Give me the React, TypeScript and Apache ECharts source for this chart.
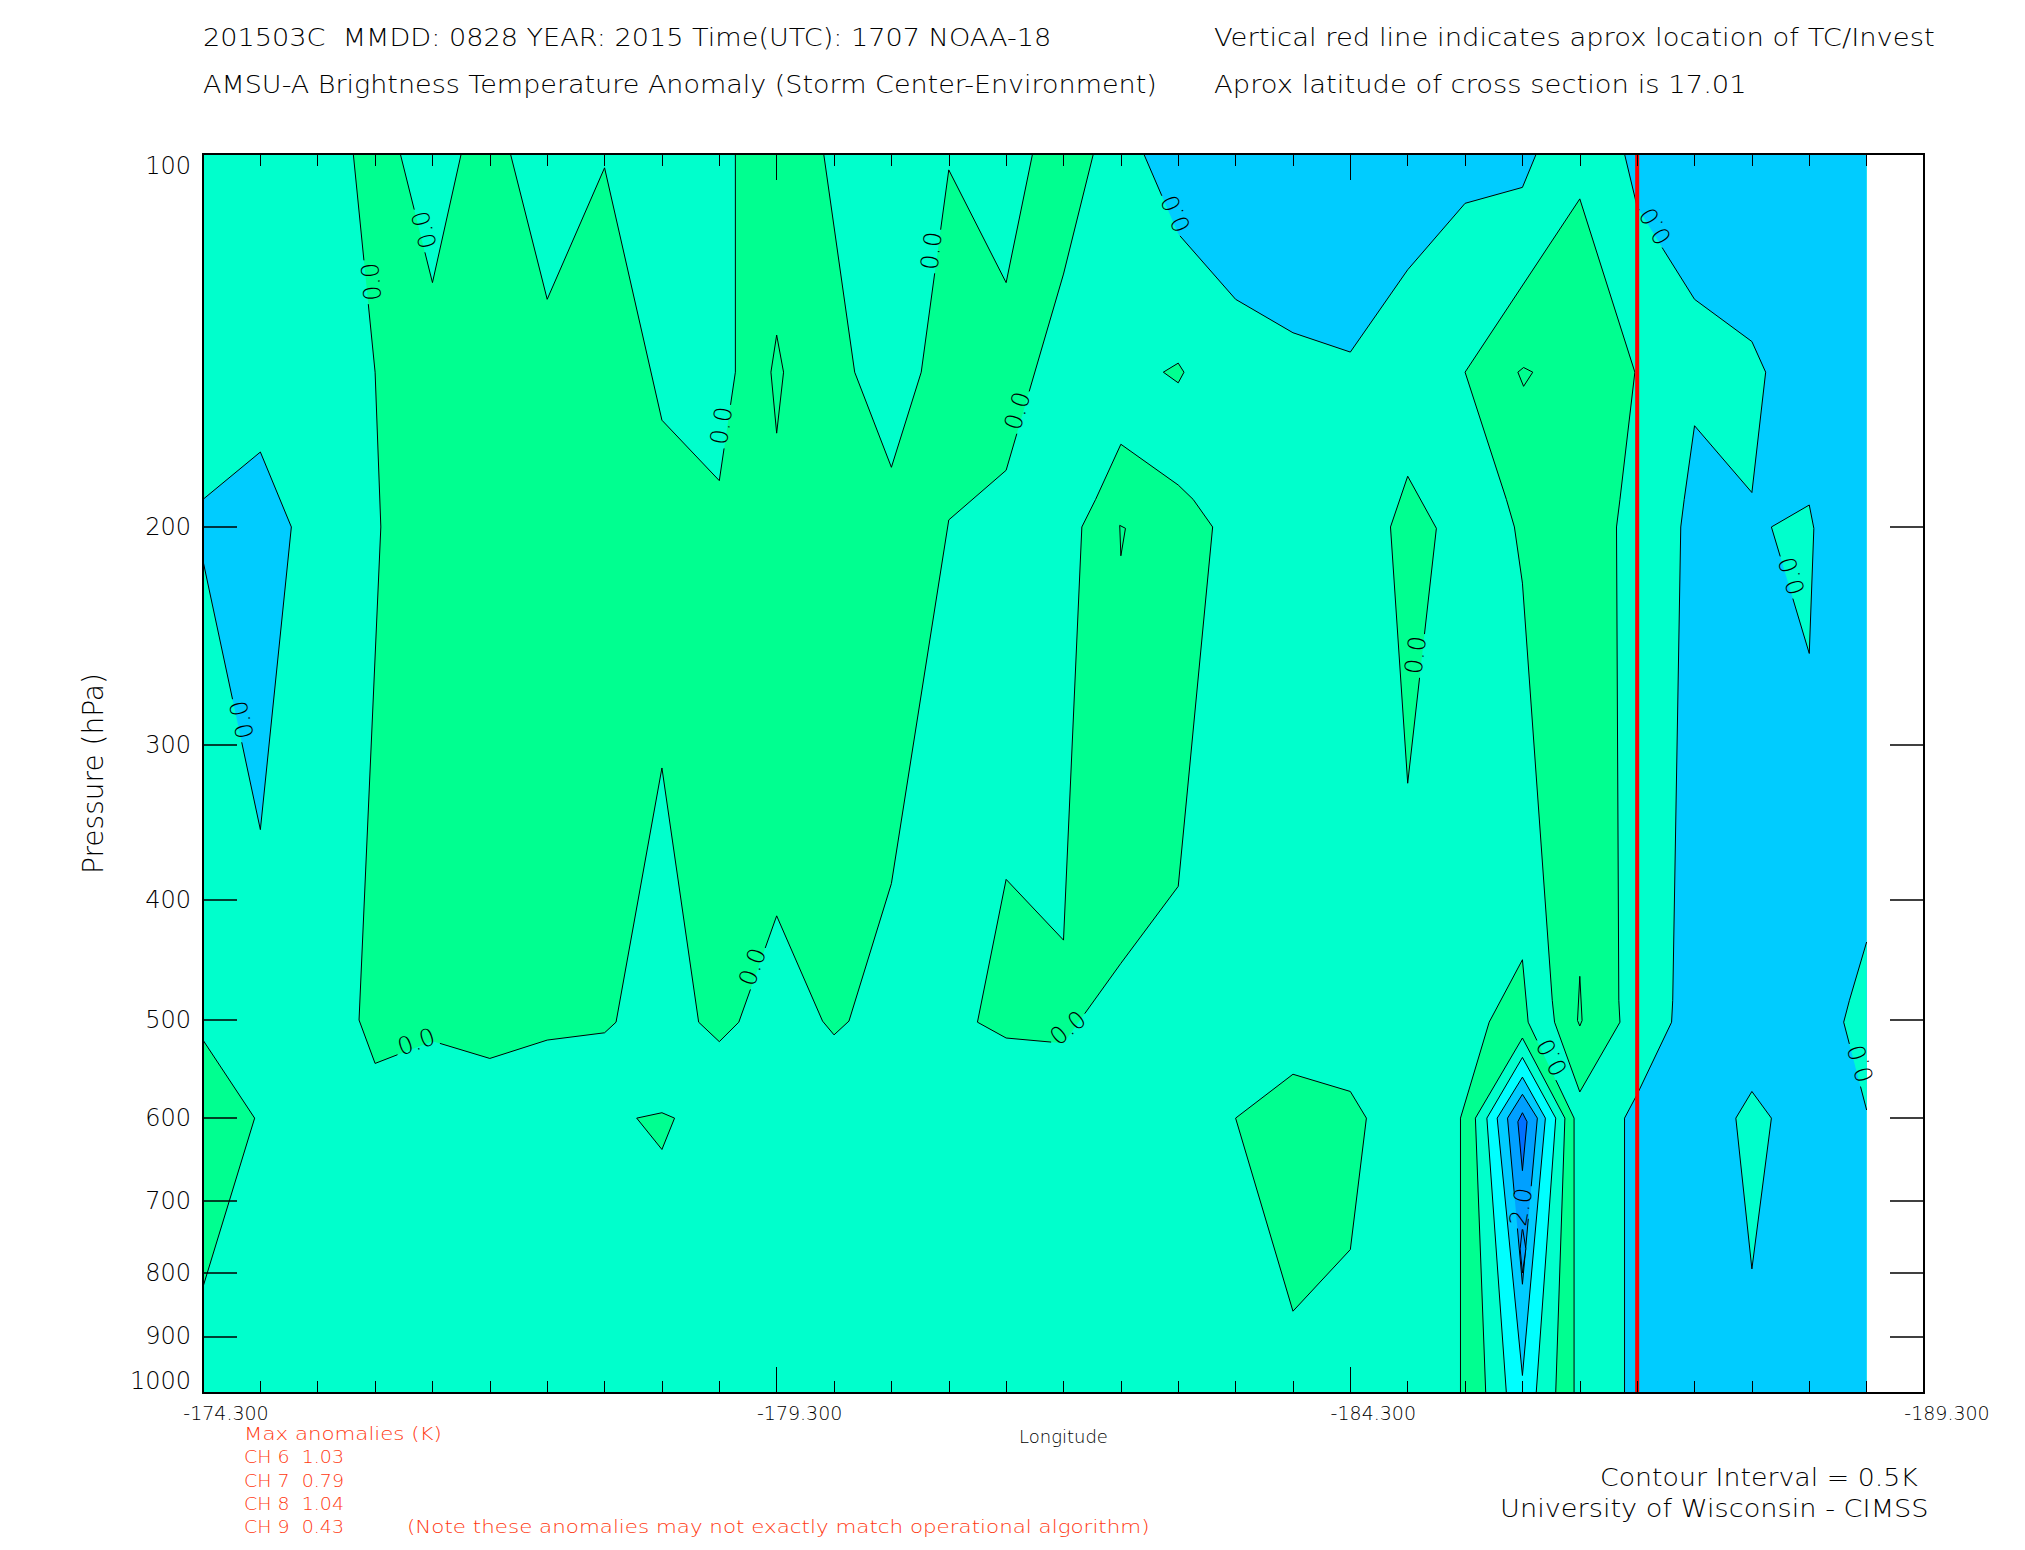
import React, { useEffect, useRef } from "react";
import * as echarts from "echarts";

type P = [number, number];

const lonMajor = [-174.3, -179.3, -184.3, -189.3];
const lonMinor = [
  -174.8, -175.3, -175.8, -176.3, -176.8, -177.3, -177.8, -178.3, -178.8, -179.8, -180.3, -180.8, -181.3, -181.8,
  -182.3, -182.8, -183.3, -183.8, -184.8, -185.3, -185.8, -186.3, -186.8, -187.3, -187.8, -188.3, -188.8,
];
const pressureTicks = [100, 200, 300, 400, 500, 600, 700, 800, 900, 1000];
const stormLon = -186.8;

const field: P[] = [[-174.3, 100], [-188.8, 100], [-188.8, 1000], [-174.3, 1000]];
const mainWarm: P[] = [
  [-175.61, 100], [-175.8, 150], [-175.85, 200], [-175.66, 500], [-175.8, 542], [-176.3, 520], [-176.8, 537],
  [-177.3, 519], [-177.8, 512], [-177.9, 502], [-178.3, 313], [-178.62, 502], [-178.8, 520.5], [-178.97, 502],
  [-179.3, 412], [-179.7, 501], [-179.8, 514], [-179.93, 501], [-180.3, 388], [-180.8, 197.4], [-181.3, 180],
  [-181.8, 125], [-182.06, 100], [-181.53, 100], [-181.3, 127], [-180.8, 103], [-180.56, 150], [-180.3, 179],
  [-179.98, 150], [-179.71, 100], [-178.94, 100], [-178.94, 150], [-178.8, 183.5], [-178.3, 164], [-177.8, 102.6],
  [-177.3, 131], [-176.98, 100], [-176.55, 100], [-176.3, 127], [-176.02, 100],
];
const spikeA: P[] = [[-179.3, 140], [-179.36, 150], [-179.3, 168], [-179.25, 150]];
const blobB: P[] = [
  [-181.05, 502], [-181.3, 517], [-181.8, 522], [-182.3, 450], [-182.8, 390], [-183.1, 200], [-182.93, 190],
  [-182.8, 185], [-182.3, 171.5], [-182.08, 190], [-181.96, 200], [-181.8, 431], [-181.3, 385],
];
const spikeB: P[] = [[-182.29, 199.4], [-182.34, 200.5], [-182.3, 211]];
const diamondC: P[] = [[-182.8, 147.5], [-182.85, 150], [-182.8, 153], [-182.67, 150]];
const blobD: P[] = [[-183.3, 600], [-183.8, 553], [-184.3, 571], [-184.44, 600], [-184.3, 766], [-183.8, 859]];
const blobE: P[] = [[-184.8, 182], [-185.05, 200.5], [-184.8, 322], [-184.65, 200]];
const bandF: P[] = [
  [-186.3, 108.7], [-186.78, 150], [-186.65, 190], [-186.62, 200], [-186.64, 482], [-186.65, 502], [-186.3, 571.5],
  [-186.08, 502], [-186.06, 482], [-185.8, 222], [-185.73, 200], [-185.66, 190], [-185.3, 150],
];
const diamondF: P[] = [[-185.81, 148.7], [-185.89, 150], [-185.81, 154], [-185.76, 150]];
const spikeF: P[] = [[-186.3, 461], [-186.32, 500.4], [-186.3, 505.6], [-186.28, 500.4]];
const coreL0: P[] = [[-185.26, 1000], [-185.26, 600], [-185.51, 502], [-185.8, 447], [-185.85, 502], [-186.25, 600], [-186.25, 1000]];
const coreL1: P[] = [[-185.48, 1000], [-185.39, 600], [-185.8, 517], [-186.17, 600], [-186.09, 1000]];
const coreL2: P[] = [[-185.66, 1000], [-185.49, 600], [-185.8, 536], [-186.09, 600], [-185.92, 1000]];
const coreL3: P[] = [[-185.8, 968], [-185.58, 600], [-185.8, 556], [-186.0, 600]];
const coreL4: P[] = [[-185.8, 817], [-185.67, 600], [-185.8, 574], [-185.93, 600]];
const coreL5: P[] = [[-185.8, 661.5], [-185.76, 604], [-185.8, 594], [-185.84, 604]];
const coreL5b: P[] = [[-185.8, 735], [-185.83, 765], [-185.8, 800], [-185.78, 765]];
const coolTop: P[] = [
  [-182.5, 100], [-182.8, 116], [-183.3, 131], [-183.8, 139.4], [-184.3, 144.5], [-184.8, 124], [-185.3, 109.6],
  [-185.8, 106.4], [-185.92, 100],
];
const coolRight: P[] = [
  [-186.69, 100], [-186.8, 110.3], [-187.03, 119.5], [-187.3, 131], [-187.8, 141.7], [-187.92, 150], [-187.8, 187.6],
  [-187.3, 165.7], [-187.21, 190], [-187.18, 200], [-187.11, 482], [-187.1, 502], [-186.8, 574], [-186.69, 600],
  [-186.69, 1000],
];
const coolRightEdge: P[] = [[-188.8, 1000], [-188.8, 100]];
const holeEdge: P[] = [[-188.8, 432.5], [-188.65, 482], [-188.6, 502], [-188.8, 591]];
const holeG: P[] = [[-188.3, 192], [-188.34, 200.5], [-188.3, 253], [-187.97, 200]];
const holeH: P[] = [[-187.8, 571], [-187.97, 600], [-187.8, 794], [-187.66, 600]];
const coolLeft: P[] = [[-174.3, 190], [-174.8, 174], [-175.07, 200], [-174.8, 351], [-174.3, 213]];
const warmLeft: P[] = [[-174.3, 519], [-174.75, 600], [-174.3, 821]];
const warmSmall: P[] = [[-178.08, 600], [-178.3, 594], [-178.41, 600], [-178.3, 636]];

const labelText = ["0.0", "0.0", "0.0", "0.0", "0.0", "0.0", "0.0", "0.0", "0.0", "0.0", "0.0", "0.0", "0.0", "0.0", "0.0", "2.0"];
const labelPos: P[] = [
  [-175.77, 126.8], [-176.23, 115.1], [-174.64, 286.1], [-178.82, 165.7], [-180.65, 119.7], [-181.4, 161.2],
  [-182.78, 111.7], [-186.96, 114.3], [-184.87, 253.8], [-188.15, 219], [-179.09, 453], [-176.16, 520.8],
  [-181.84, 507.5], [-186.06, 535.7], [-188.75, 542], [-185.79, 707.5],
];
const labelAngle = [95, 105, 103, 81, 83, 73, 114.6, 121, 83, 107, 71, 19, 40, 118, 107, 80];

const TEAL = "#00ffcc";
const GREEN = "#00ff90";
const BLUE = "#00ccff";
const CYAN = "#00ffff";
const DEEP1 = "#00a0ff";
const DEEP2 = "#0070ff";

const layers: { pts: P[]; fill: string; stroke?: boolean; closeWith?: P[] }[] = [
  { pts: field, fill: TEAL, stroke: false },
  { pts: mainWarm, fill: GREEN },
  { pts: spikeA, fill: GREEN },
  { pts: blobB, fill: GREEN },
  { pts: spikeB, fill: GREEN },
  { pts: diamondC, fill: GREEN },
  { pts: blobD, fill: GREEN },
  { pts: blobE, fill: GREEN },
  { pts: bandF, fill: GREEN },
  { pts: diamondF, fill: GREEN },
  { pts: spikeF, fill: GREEN },
  { pts: warmLeft, fill: GREEN },
  { pts: warmSmall, fill: GREEN },
  { pts: coolTop, fill: BLUE },
  { pts: coolRight, fill: BLUE, closeWith: coolRightEdge },
  { pts: holeEdge, fill: TEAL, closeWith: [] },
  { pts: holeG, fill: TEAL },
  { pts: holeH, fill: TEAL },
  { pts: coolLeft, fill: BLUE },
  { pts: coreL0, fill: GREEN },
  { pts: coreL1, fill: TEAL },
  { pts: coreL2, fill: CYAN },
  { pts: coreL3, fill: BLUE },
  { pts: coreL4, fill: DEEP1 },
  { pts: coreL5, fill: DEEP2 },
  { pts: coreL5b, fill: DEEP1 },
];

const FONT = "DejaVu Sans";
const WEIGHT = 200;
const ORANGE = "#ff3810";

const texts: { t: string; x0: number; x1: number; base: number; size: number; color: string }[] = [
  { t: "201503C  MMDD: 0828 YEAR: 2015 Time(UTC): 1707 NOAA-18", x0: 203, x1: 1052, base: 46, size: 24, color: "#000" },
  { t: "AMSU-A Brightness Temperature Anomaly (Storm Center-Environment)", x0: 203, x1: 1157, base: 93, size: 24, color: "#000" },
  { t: "Vertical red line indicates aprox location of TC/Invest", x0: 1214, x1: 1935, base: 46, size: 24, color: "#000" },
  { t: "Aprox latitude of cross section is 17.01", x0: 1214, x1: 1747, base: 93, size: 24, color: "#000" },
  { t: "Max anomalies (K)", x0: 244, x1: 442, base: 1440, size: 17, color: ORANGE },
  { t: "CH 6  1.03", x0: 244, x1: 344, base: 1463, size: 17, color: ORANGE },
  { t: "CH 7  0.79", x0: 244, x1: 344, base: 1487, size: 17, color: ORANGE },
  { t: "CH 8  1.04", x0: 244, x1: 344, base: 1510, size: 17, color: ORANGE },
  { t: "CH 9  0.43", x0: 244, x1: 344, base: 1533, size: 17, color: ORANGE },
  { t: "(Note these anomalies may not exactly match operational algorithm)", x0: 407, x1: 1150, base: 1533, size: 17, color: ORANGE },
  { t: "Contour Interval = 0.5K", x0: 1600, x1: 1918, base: 1486, size: 24, color: "#000" },
  { t: "University of Wisconsin - CIMSS", x0: 1500, x1: 1929, base: 1517, size: 24, color: "#000" },
];

function makeXAxis(position: string, values: number[], length: number, showLabel: boolean, name?: string) {
  return {
    type: "value",
    position,
    min: -189.3,
    max: -174.3,
    inverse: true,
    z: 5,
    name,
    nameLocation: "middle",
    nameGap: 34,
    nameTextStyle: { fontFamily: FONT, fontWeight: WEIGHT, fontSize: 18, color: "#000" },
    splitLine: { show: false },
    axisLine: { show: true, onZero: false, lineStyle: { color: "#000", width: 2 } },
    axisTick: { show: true, inside: true, length, customValues: values, lineStyle: { color: "#000", width: 1 } },
    axisLabel: {
      show: showLabel,
      customValues: values,
      margin: 10,
      fontFamily: FONT,
      fontWeight: WEIGHT,
      fontSize: 19,
      color: "#000",
      padding: [0, 0, 0, 46],
      hideOverlap: false,
      formatter: (v: number) => v.toFixed(3),
    },
  };
}

function makeYAxis(position: string, showLabel: boolean, name?: string) {
  return {
    type: "log",
    logBase: 10,
    position,
    min: 100,
    max: 1000,
    inverse: true,
    z: 5,
    name,
    nameLocation: "middle",
    nameGap: 96,
    nameRotate: 90,
    nameTextStyle: { fontFamily: FONT, fontWeight: WEIGHT, fontSize: 28, color: "#000" },
    splitLine: { show: false },
    minorTick: { show: false },
    axisLine: { show: true, onZero: false, lineStyle: { color: "#000", width: 2 } },
    axisTick: { show: true, inside: true, length: 34, customValues: pressureTicks, lineStyle: { color: "#000", width: 1.5 } },
    axisLabel: {
      show: showLabel,
      customValues: pressureTicks,
      margin: 12,
      fontFamily: FONT,
      fontWeight: WEIGHT,
      fontSize: 24,
      color: "#000",
      verticalAlignMinLabel: "top",
      verticalAlignMaxLabel: "bottom",
      hideOverlap: false,
      formatter: (v: number) => String(Math.round(v)),
    },
  };
}

// Contour lines break around their labels, as the plotting routine did it.
function cutAroundLabels(line: number[][], boxes: { c: number[]; a: number }[]): number[][][] {
  const runs: number[][][] = [];
  let run: number[][] = [];
  const HL = 22;
  const HW = 9;
  for (let i = 0; i + 1 < line.length; i++) {
    const p = line[i];
    const q = line[i + 1];
    const cuts: [number, number][] = [];
    for (const b of boxes) {
      const ux = Math.cos(b.a);
      const uy = -Math.sin(b.a);
      const f = (m: number[]) => [(m[0] - b.c[0]) * ux + (m[1] - b.c[1]) * uy, -(m[0] - b.c[0]) * uy + (m[1] - b.c[1]) * ux];
      const a = f(p);
      const d = f(q);
      let t0 = 0;
      let t1 = 1;
      const clip = (s: number, e: number, h: number) => {
        const dl = e - s;
        if (Math.abs(dl) < 1e-9) {
          if (Math.abs(s) > h) t1 = -1;
          return;
        }
        const ta = (-h - s) / dl;
        const tb = (h - s) / dl;
        t0 = Math.max(t0, Math.min(ta, tb));
        t1 = Math.min(t1, Math.max(ta, tb));
      };
      clip(a[0], d[0], HL);
      clip(a[1], d[1], HW);
      if (t1 > t0) cuts.push([t0, t1]);
    }
    cuts.sort((m, n) => m[0] - n[0]);
    const at = (t: number) => [p[0] + (q[0] - p[0]) * t, p[1] + (q[1] - p[1]) * t];
    if (run.length === 0) run.push(p);
    for (const c of cuts) {
      if (c[0] > 0) run.push(at(c[0]));
      if (run.length > 1) runs.push(run);
      run = c[1] < 1 ? [at(c[1])] : [];
    }
    run.push(q);
  }
  if (run.length > 1) runs.push(run);
  return runs;
}

export default function App() {
  const ref = useRef<HTMLDivElement>(null);
  useEffect(() => {
    const chart = echarts.init(ref.current!, undefined, { renderer: "svg" });
    const ctx = document.createElement("canvas").getContext("2d")!;
    const graphicTexts = texts.map((d) => {
      ctx.font = `${WEIGHT} ${d.size}px "${FONT}"`;
      const w = ctx.measureText(d.t).width;
      return {
        type: "text",
        x: d.x0,
        y: d.base - d.size * 0.36,
        scaleX: (d.x1 - d.x0) / w,
        style: {
          text: d.t,
          fontFamily: FONT,
          fontWeight: WEIGHT,
          fontSize: d.size,
          fill: d.color,
          align: "left",
          verticalAlign: "middle",
        },
      };
    });
    chart.setOption({
      animation: false,
      backgroundColor: "#fff",
      grid: { left: 203, right: 101, top: 154, bottom: 157, containLabel: false },
      xAxis: [
        makeXAxis("bottom", lonMajor, 26, true, "Longitude"),
        makeXAxis("bottom", lonMinor, 12, false),
        makeXAxis("top", lonMajor, 26, false),
        makeXAxis("top", lonMinor, 12, false),
      ],
      yAxis: [makeYAxis("left", true, "Pressure (hPa)"), makeYAxis("right", false)],
      graphic: { elements: graphicTexts },
      series: [
        {
          type: "custom",
          coordinateSystem: "cartesian2d",
          xAxisIndex: 0,
          yAxisIndex: 0,
          silent: true,
          clip: false,
          z: 2,
          encode: { x: 0, y: 1 },
          data: layers.map((l, i) => [l.pts[0][0], l.pts[0][1], i]),
          renderItem: (_: any, api: any) => {
            const l = layers[api.value(2)];
            const pts = l.pts.map((p) => api.coord(p));
            const full = l.closeWith ? pts.concat(l.closeWith.map((p) => api.coord(p))) : pts;
            const children: any[] = [{ type: "polygon", shape: { points: full }, style: { fill: l.fill, stroke: null } }];
            if (l.stroke !== false) {
              const boxes = labelPos.map((p, i) => ({ c: api.coord(p), a: (labelAngle[i] * Math.PI) / 180 }));
              const path = l.closeWith ? pts : pts.concat([pts[0]]);
              cutAroundLabels(path, boxes).forEach((run) =>
                children.push({ type: "polyline", shape: { points: run }, style: { fill: null, stroke: "#000", lineWidth: 1 } })
              );
            }
            return { type: "group", children };
          },
        },
        {
          type: "line",
          xAxisIndex: 0,
          yAxisIndex: 0,
          silent: true,
          z: 3,
          symbol: "none",
          lineStyle: { color: "#ff0000", width: 4 },
          data: [[stormLon, 100], [stormLon, 1000]],
        },
        {
          type: "custom",
          coordinateSystem: "cartesian2d",
          xAxisIndex: 0,
          yAxisIndex: 0,
          silent: true,
          clip: false,
          z: 4,
          encode: { x: 0, y: 1 },
          data: labelPos.map((p) => [p[0], p[1]]),
          renderItem: (params: any, api: any) => {
            const c = api.coord([api.value(0), api.value(1)]);
            return {
              type: "text",
              x: c[0],
              y: c[1],
              rotation: (labelAngle[params.dataIndex] * Math.PI) / 180,
              style: {
                text: labelText[params.dataIndex],
                fontFamily: FONT,
                fontWeight: WEIGHT,
                fontSize: 24,
                fill: "#000",
                align: "center",
                verticalAlign: "middle",
              },
            };
          },
        },
      ],
    });
    return () => chart.dispose();
  }, []);
  return <div ref={ref} style={{ position: "absolute", left: 0, top: 0, width: 2025, height: 1550 }} />;
}
